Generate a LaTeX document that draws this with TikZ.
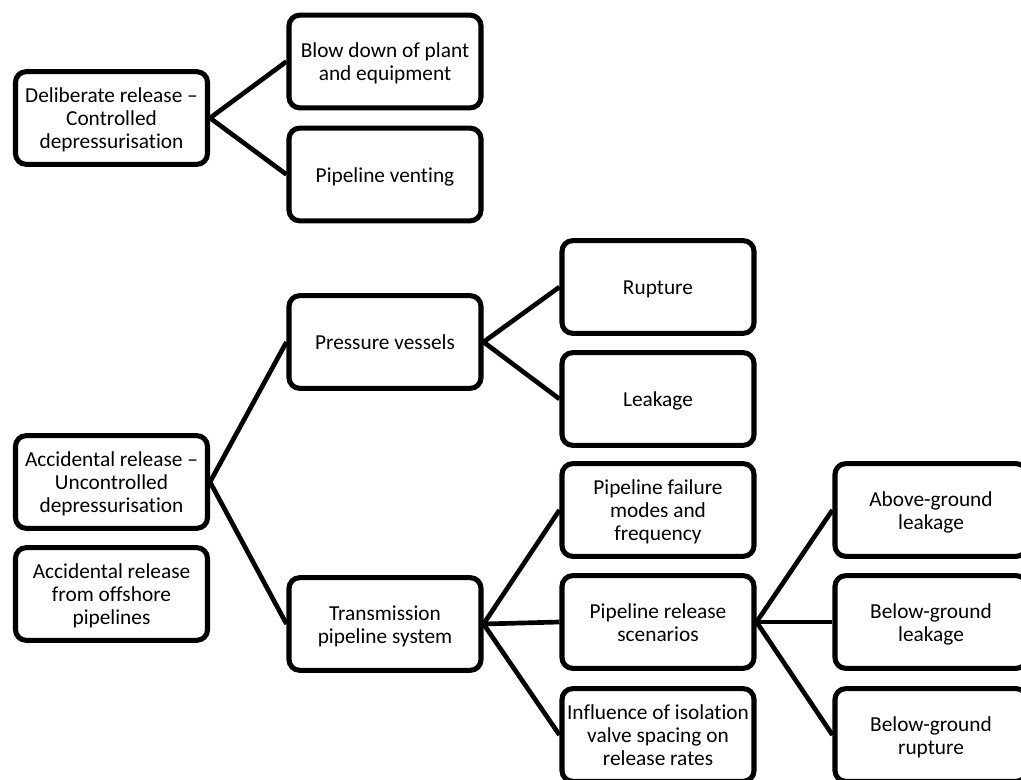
\documentclass[tikz,border=0pt]{standalone}
\usepackage{fontspec}
\setmainfont{Carlito}[Ligatures=NoCommon]
\newcommand{\bxt}[1]{\raisebox{-2.2pt}[\height][\depth]{\begin{tabular}{@{}c@{}}#1\end{tabular}}}
\begin{document}
\begin{tikzpicture}[x=0.75pt,y=-0.75pt,
  box/.style={draw=black, line width=3.8pt, rounded corners=8pt, fill=white,
    minimum width=144pt, minimum height=69.5pt, inner sep=1pt,
    font=\fontsize{16pt}{17.3pt}\selectfont},
  link/.style={draw=black, line width=3.5pt}]
\useasboundingbox (0,0) rectangle (1021,780);
\clip (0,0) rectangle (1021,780);
\fill[white] (0,0) rectangle (1021,780);
% column A
\node[box] (a1) at (111.5,118) {\bxt{Deliberate release --\\ Controlled\\ depressurisation}};
\node[box] (a2) at (111.5,482) {\bxt{Accidental release --\\ Uncontrolled\\ depressurisation}};
\node[box] (a3) at (111.5,594) {\bxt{Accidental release\\ from offshore\\ pipelines}};
% column B/C
\node[box] (b1) at (385,61.5) {\bxt{Blow down of plant\\ and equipment}};
\node[box] (b2) at (385,174.5) {\bxt{Pipeline venting}};
\node[box] (c0) at (385,342) {\bxt{Pressure vessels}};
\node[box] (c1) at (385,624) {\bxt{Transmission\\ pipeline system}};
% column D
\node[box] (d1) at (658,287) {\bxt{Rupture}};
\node[box] (d2) at (658,399) {\bxt{Leakage}};
\node[box] (d3) at (658,510) {\bxt{Pipeline failure\\ modes and\\ frequency}};
\node[box] (d4) at (658,622) {\bxt{Pipeline release\\ scenarios}};
\node[box] (d5) at (658,735) {\bxt{Influence of isolation\\ valve spacing on\\ release rates}};
% column E
\node[box] (e1) at (931,510) {\bxt{Above-ground\\ leakage}};
\node[box] (e2) at (931,622) {\bxt{Below-ground\\ leakage}};
\node[box] (e3) at (931,735) {\bxt{Below-ground\\ rupture}};
% connectors
\draw[link] (a1.east) -- (b1.west);
\draw[link] (a1.east) -- (b2.west);
\draw[link] (a2.east) -- (c0.west);
\draw[link] (a2.east) -- (c1.west);
\draw[link] (c0.east) -- (d1.west);
\draw[link] (c0.east) -- (d2.west);
\draw[link] (c1.east) -- (d3.west);
\draw[link] (c1.east) -- (d4.west);
\draw[link] (c1.east) -- (d5.west);
\draw[link] (d4.east) -- (e1.west);
\draw[link] (d4.east) -- (e2.west);
\draw[link] (d4.east) -- (e3.west);
\end{tikzpicture}
\end{document}
